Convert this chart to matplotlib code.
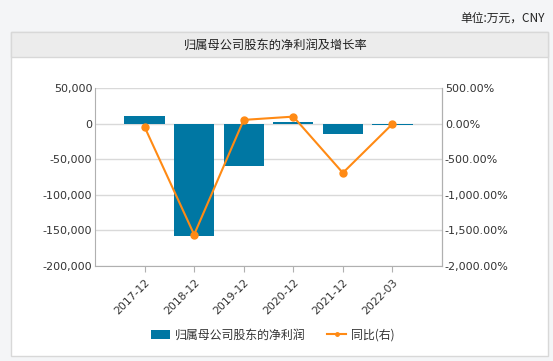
import matplotlib
matplotlib.use("Agg")
import matplotlib.pyplot as plt
from matplotlib.patches import Rectangle
from matplotlib.lines import Line2D
from matplotlib.ticker import FuncFormatter, FixedLocator
import numpy as np

plt.rcParams['font.family'] = ['DejaVu Sans', 'Noto Sans CJK SC']

categories = ["2017-12", "2018-12", "2019-12", "2020-12", "2021-12", "2022-03"]
net_profit = [10300, -158000, -60000, 2400, -14500, -2000]
yoy_pct = [-46, -1559, 52, 98, -692, -5]
left_ticks = [50000, 0, -50000, -100000, -150000, -200000]
right_ticks = [500, 0, -500, -1000, -1500, -2000]

bar_color = "#0077a3"
line_color = "#ff8a14"
text_color = "#333333"
grid_color = "#d9d9d9"
axis_color = "#b0b0b0"
cjk = ['Noto Sans CJK SC', 'DejaVu Sans']

W, H = 553, 361
fig = plt.figure(figsize=(W / 100, H / 100), dpi=100)
fig.patch.set_facecolor("#f4f5f7")

# white panel
fig.patches.append(Rectangle((11 / W, 1 - 356 / H), (548 - 11) / W, (356 - 32) / H,
                             transform=fig.transFigure, facecolor="white",
                             edgecolor="#d8d8d8", linewidth=1, zorder=-3))
# title band
fig.patches.append(Rectangle((11 / W, 1 - 57 / H), (548 - 11) / W, (57 - 32) / H,
                             transform=fig.transFigure, facecolor="#ececec",
                             edgecolor="#d8d8d8", linewidth=1, zorder=-2))
fig.text(276 / W, 1 - 45 / H, "归属母公司股东的净利润及增长率", ha="center", va="center",
         fontsize=8.8, color="#222222", family=cjk, fontweight="medium")
fig.text(545 / W, 1 - 18 / H, "单位:万元，CNY", ha="right", va="center",
         fontsize=8.5, color="#222222", family=cjk)

ax = fig.add_axes([95 / W, 1 - 266 / H, (442 - 95) / W, (266 - 88) / H])
ax.set_facecolor("white")
x = np.arange(len(categories))
ax.bar(x, net_profit, width=0.81, color=bar_color, zorder=2, label="归属母公司股东的净利润")
ax.set_xlim(-1, len(categories))
ax.set_ylim(-200000, 50000)
ax.yaxis.set_major_locator(FixedLocator(left_ticks))
ax.yaxis.set_major_formatter(FuncFormatter(lambda v, p: f"{int(v):,}"))
ax.grid(axis="y", color=grid_color, linewidth=1, zorder=0)
ax.set_axisbelow(True)
ax.set_xticks(x)
ax.set_xticklabels(categories, rotation=45, ha="right", rotation_mode="anchor",
                   fontsize=7.8, color=text_color)
ax.tick_params(axis="y", labelsize=8, colors=text_color, length=0, pad=2)
ax.tick_params(axis="x", length=4, color=axis_color, pad=4)
ax.spines["top"].set_visible(False)
for side in ["left", "right", "bottom"]:
    ax.spines[side].set_color(axis_color)

ax2 = ax.twinx()
ax2.plot(x, yoy_pct, color=line_color, linewidth=1.5, marker="o", markersize=5,
         zorder=3, label="同比(右)")
ax2.set_ylim(-2000, 500)
ax2.yaxis.set_major_locator(FixedLocator(right_ticks))
ax2.yaxis.set_major_formatter(FuncFormatter(lambda v, p: f"{v:,.2f}%"))
ax2.tick_params(axis="y", labelsize=8, colors=text_color, length=0, pad=2)
for side in ["top", "left", "bottom"]:
    ax2.spines[side].set_visible(False)
ax2.spines["right"].set_color(axis_color)

h1, l1 = ax.get_legend_handles_labels()
l2 = ["同比(右)"]
h2 = [Line2D([0], [0], color=line_color, linewidth=1.5, marker="o", markersize=2.5)]
leg = fig.legend(h1 + h2, l1 + l2, loc="center", bbox_to_anchor=(273 / W, 1 - 335 / H),
                 ncol=2, frameon=False, prop={"family": cjk, "size": 8.6},
                 handlelength=1.6, handleheight=0.8, columnspacing=1.8, handletextpad=0.4)
for t in leg.get_texts():
    t.set_color(text_color)

fig.savefig("out.png", dpi=100, facecolor=fig.get_facecolor())
